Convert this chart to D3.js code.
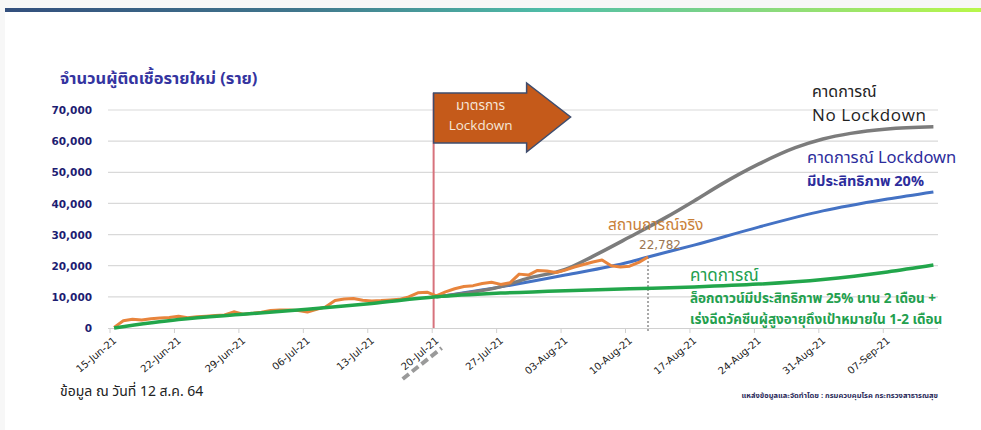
<!DOCTYPE html>
<html><head><meta charset="utf-8">
<script src="https://cdn.jsdelivr.net/npm/d3@7"></script>
<style>
html,body{margin:0;padding:0;background:#fff;}
svg{display:block;}
</style></head><body>
<svg id="c" width="981" height="430"></svg>
<script>
// ---------- DATA ----------
const tickLabels = ["15-Jun-21","22-Jun-21","29-Jun-21","06-Jul-21","13-Jul-21","20-Jul-21","27-Jul-21","03-Aug-21","10-Aug-21","17-Aug-21","24-Aug-21","31-Aug-21","07-Sep-21"];
const yTicks = [0,10000,20000,30000,40000,50000,60000,70000];

// Actual daily new cases from 15-Jun-21 to 12-Aug-21
const actualStart = "2021-06-15";
const actualCases = [200,2300,2800,2600,3000,3200,3400,3800,3300,3600,
  3800,4000,4200,5200,4400,4700,5100,5600,5800,5750,
  5600,5100,6000,6800,8800,9300,9500,8900,8700,8800,
  9000,9200,10000,11300,11500,10300,11600,12600,13300,13600,
  14300,14700,14000,14500,17300,17000,18500,18300,17800,18600,
  19600,20400,21200,21838,19983,19603,19843,21038,22782];

// Scenario: No Lockdown
const noLockDates = ["2021-07-20","2021-07-27","2021-07-30","2021-08-03","2021-08-06","2021-08-10","2021-08-14","2021-08-17","2021-08-20","2021-08-24","2021-08-28","2021-08-31","2021-09-03","2021-09-07","2021-09-12"];
const noLockValues = [10000,13300,16000,18800,23000,29200,35600,40800,46200,52600,57900,60700,62500,63900,64600];

// Scenario: Lockdown 20% effective
const lock20Dates = ["2021-07-20","2021-07-27","2021-08-03","2021-08-10","2021-08-12","2021-08-17","2021-08-24","2021-08-31","2021-09-07","2021-09-12"];
const lock20Values = [10000,13200,17000,21200,22800,26600,32400,37600,41400,43700];

// Scenario: Lockdown 25% for 2 months + vaccination
const lock25Dates = ["2021-06-15","2021-06-22","2021-06-29","2021-07-06","2021-07-13","2021-07-20","2021-07-27","2021-08-03","2021-08-10","2021-08-17","2021-08-24","2021-08-31","2021-09-07","2021-09-12"];
const lock25Values = [0,2700,4400,6000,7900,10000,11200,12000,12600,13200,14100,15600,18000,20200];

const lockdownDate = "2021-07-20";
const dataAsOfDate = "2021-08-12";

// ---------- CHART ----------
const svg = d3.select("#c");
const W = 981, H = 430;
const parse = d3.timeParse("%Y-%m-%d");
const parseTick = d3.timeParse("%d-%b-%y");
const mid = d => d3.timeHour.offset(d, 12);

const thaiFont = "'Noto Sans Thai','Tahoma','Leelawadee UI','DejaVu Sans',sans-serif";
const latinFont = "'Open Sans','DejaVu Sans',sans-serif";

// background
svg.append("rect").attr("width",W).attr("height",H).attr("fill","#f7f7f7");
svg.append("rect").attr("x",5).attr("y",12).attr("width",W-5).attr("height",H-12).attr("fill","#fff");
const grad = svg.append("defs").append("linearGradient").attr("id","topbar");
grad.append("stop").attr("offset","0%").attr("stop-color","#334f7d");
grad.append("stop").attr("offset","30%").attr("stop-color","#40768c");
grad.append("stop").attr("offset","56%").attr("stop-color","#50bea8");
grad.append("stop").attr("offset","80%").attr("stop-color","#8edc7a");
grad.append("stop").attr("offset","100%").attr("stop-color","#b8f74a");
svg.append("rect").attr("x",5).attr("y",8).attr("width",W-5).attr("height",4).attr("fill","url(#topbar)");

const x = d3.scaleTime().domain([parse("2021-06-15"), parse("2021-09-13")]).range([109.5, 938]);
const y = d3.scaleLinear().domain([0,70000]).range([328,110]);

// gridlines
svg.append("g").selectAll("line").data(yTicks.filter(v=>v>0)).join("line")
  .attr("x1",108).attr("x2",938).attr("y1",d=>y(d)).attr("y2",d=>y(d))
  .attr("stroke","#d9d9d9").attr("stroke-width",1.2);

// y axis labels
const yAxis = d3.axisLeft(y).tickValues(yTicks).tickSize(0).tickPadding(0).tickFormat(d3.format(","));
const gy = svg.append("g").attr("transform","translate(92,0)").call(yAxis);
gy.select(".domain").remove();
gy.selectAll("text").attr("font-family","'DejaVu Sans',Verdana,sans-serif").attr("font-weight","bold")
  .attr("font-size",10.5).attr("fill","#1d1d72").attr("dy","0.35em");

// x axis
const tickDates = tickLabels.map(parseTick);
const xAxis = d3.axisBottom(x).tickValues(tickDates).tickSize(5).tickFormat((d,i)=>tickLabels[i]);
const gx = svg.append("g").attr("transform","translate(0,328)").call(xAxis);
gx.select(".domain").attr("stroke","#d0d0d0").attr("stroke-width",1.2).attr("d","M108,0.5H938");
gx.selectAll(".tick line").attr("stroke","#d0d0d0");
gx.selectAll("text").attr("font-family","'DejaVu Sans',Verdana,sans-serif").attr("font-size",10)
  .attr("fill","#222").attr("text-anchor","end")
  .attr("transform","translate(5,11) rotate(-40)").attr("dy","0.35em").attr("y",0).attr("x",0);

// dashed underline for 20-Jul-21 label
const xl = x(parse(lockdownDate));
svg.append("line").attr("x1",xl-29).attr("y1",379).attr("x2",xl+10).attr("y2",348)
  .attr("stroke","#9a9a9a").attr("stroke-width",4).attr("stroke-dasharray","8,4");

// lines
const line = d3.line().x(d=>x(d.date)).y(d=>y(d.v)).curve(d3.curveMonotoneX);
const mk = (dates, vals) => dates.map((s,i)=>({date: mid(parse(s)), v: vals[i]}));
const actualData = actualCases.map((v,i)=>({date: mid(d3.timeDay.offset(parse(actualStart), i)), v}));

// red lockdown line
const xLock = x(d3.timeHour.offset(parse(lockdownDate), 5));
svg.append("line").attr("x1",xLock).attr("x2",xLock).attr("y1",93).attr("y2",328)
  .attr("stroke","#d7727c").attr("stroke-width",2);

// data-as-of dotted line
const xAsOf = x(mid(parse(dataAsOfDate)));
svg.append("line").attr("x1",xAsOf).attr("x2",xAsOf).attr("y1",257).attr("y2",332)
  .attr("stroke","#a8a8a8").attr("stroke-width",2).attr("stroke-dasharray","2,2");

svg.append("path").datum(mk(lock20Dates, lock20Values)).attr("d",line)
  .attr("fill","none").attr("stroke","#4472c4").attr("stroke-width",3);
svg.append("path").datum(mk(noLockDates, noLockValues)).attr("d",line)
  .attr("fill","none").attr("stroke","#7c7c7c").attr("stroke-width",3.5);
svg.append("path").datum(actualData).attr("d",d3.line().x(d=>x(d.date)).y(d=>y(d.v)))
  .attr("fill","none").attr("stroke","#e8843c").attr("stroke-width",3).attr("stroke-linejoin","round");
svg.append("path").datum(mk(lock25Dates, lock25Values)).attr("d",line)
  .attr("fill","none").attr("stroke","#22a64b").attr("stroke-width",3.5);

// arrow
const ax0 = xLock, ax1 = xLock + 93, axT = xLock + 137;
svg.append("path")
  .attr("d",`M${ax0},93 L${ax1},93 L${ax1},83 L${axT},117 L${ax1},152 L${ax1},143 L${ax0},143 Z`)
  .attr("fill","#c55a1a").attr("stroke","#3f4d6e").attr("stroke-width",1.5);
svg.append("text").attr("x",ax0+47).attr("y",110).attr("text-anchor","middle")
  .attr("font-family",thaiFont).attr("font-size",13.5).attr("fill","#f6e6d8").text("มาตรการ");
svg.append("text").attr("x",ax0+47).attr("y",130).attr("text-anchor","middle")
  .attr("font-family",latinFont).attr("font-size",13.5).attr("fill","#f6e6d8").text("Lockdown");

// title
svg.append("text").attr("x",60).attr("y",84).attr("font-family",thaiFont).attr("font-size",16.5)
  .attr("font-weight","bold").attr("fill","#3434a0").text("จำนวนผู้ติดเชื้อรายใหม่ (ราย)");

// annotations
const ann = (tx,ty,txt,size,color,weight,font,anchor,ls) => svg.append("text").attr("x",tx).attr("y",ty)
  .attr("font-family",font||thaiFont).attr("font-size",size).attr("fill",color)
  .attr("font-weight",weight||"normal").attr("text-anchor",anchor||"start")
  .attr("letter-spacing",ls||0).text(txt);

ann(812,97,"คาดการณ์",16,"#222","normal");
ann(812,121,"No Lockdown",17,"#222","normal",latinFont,"start",0.6);
ann(807,163,"คาดการณ์ Lockdown",16.5,"#2d2d9c","normal");
ann(807,186,"มีประสิทธิภาพ 20%",14.5,"#2d2d9c","bold");
ann(608,230,"สถานการณ์จริง",15.5,"#c98038","normal");
ann(660,249,"22,782",12,"#9b7652","normal","'DejaVu Sans',sans-serif","middle");
ann(690,281,"คาดการณ์",17,"#23a04e","normal");
ann(690,303,"ล็อกดาวน์มีประสิทธิภาพ 25% นาน 2 เดือน +",13.5,"#23a04e","bold");
ann(690,324,"เร่งฉีดวัคซีนผู้สูงอายุถึงเป้าหมายใน 1-2 เดือน",13.5,"#23a04e","bold");

ann(60,396,"ข้อมูล ณ วันที่ 12 ส.ค. 64",14,"#222","normal");
ann(938,398,"แหล่งข้อมูลและจัดทำโดย : กรมควบคุมโรค กระทรวงสาธารณสุข",7.5,"#2a2a5a","bold",thaiFont,"end");
</script>
</body></html>
